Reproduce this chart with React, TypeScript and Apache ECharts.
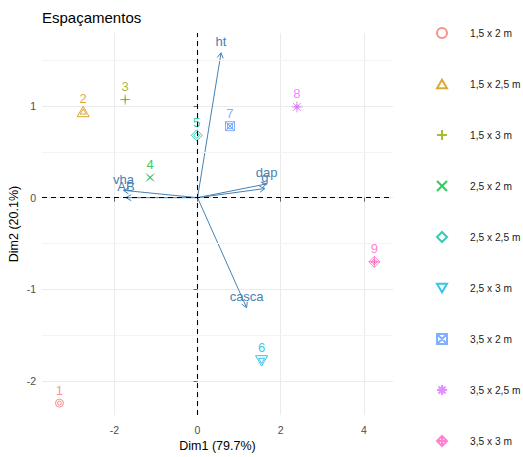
import React, { useEffect, useRef } from "react";
import * as echarts from "echarts";

const groups = [
  "1,5 x 2 m",
  "1,5 x 2,5 m",
  "1,5 x 3 m",
  "2,5 x 2 m",
  "2,5 x 2,5 m",
  "2,5 x 3 m",
  "3,5 x 2 m",
  "3,5 x 2,5 m",
  "3,5 x 3 m",
];
const pointLabels = ["1", "2", "3", "4", "5", "6", "7", "8", "9"];
const dim1 = [-3.32, -2.75, -1.74, -1.14, -0.02, 1.54, 0.78, 2.39, 4.25];
const dim2 = [-2.24, 0.94, 1.07, 0.22, 0.68, -1.78, 0.78, 0.99, -0.7];
const groupColors = [
  "#F8766D",
  "#D39200",
  "#93AA00",
  "#00BA38",
  "#00C19F",
  "#00B9E3",
  "#619CFF",
  "#DB72FB",
  "#FF61C3",
];

const varNames = ["ht", "dap", "g", "vha", "AB", "casca"];
const varDim1 = [0.565, 1.66, 1.62, -1.78, -1.72, 1.18];
const varDim2 = [1.58, 0.15, 0.1, 0.08, 0.0, -1.2];

const xTicks = [-2, 0, 2, 4];
const yTicks = [-2, -1, 0, 1];
const yMinorLines = [-1.5, -0.5, 0.5, 1.5];

const FONT = "'Liberation Sans', Arial, Helvetica, sans-serif";
const ARROW = "#4682B4";

// ggplot shapes 1..9 drawn as outlines
const shapes = [
  "M0,5 A5,5 0 1,1 10,5 A5,5 0 1,1 0,5 Z",
  "M5,0 L10,8.66 L0,8.66 Z",
  "M5,0 L5,10 M0,5 L10,5",
  "M0,0 L10,10 M10,0 L0,10",
  "M5,0 L10,5 L5,10 L0,5 Z",
  "M0,0 L10,0 L5,8.66 Z",
  "M0,0 L10,0 L10,10 L0,10 Z M0,0 L10,10 M10,0 L0,10",
  "M5,0 L5,10 M0,5 L10,5 M1.5,1.5 L8.5,8.5 M8.5,1.5 L1.5,8.5",
  "M5,0 L10,5 L5,10 L0,5 Z M5,0 L5,10 M0,5 L10,5",
];
const outerSizes = [8, 12, 10, 8, 11, 12, 9, 11, 11];
const innerSizes = [4, 6, 6, 5, 6, 6, 5, 6, 6];

export default function App() {
  const ref = useRef<HTMLDivElement>(null);

  useEffect(() => {
    if (!ref.current) return;
    const chart = echarts.init(ref.current, null, { renderer: "svg" });

    const scatterSeries = groups.map((g, i) => ({
      type: "scatter",
      name: g,
      symbol: "path://" + shapes[i],
      symbolKeepAspect: true,
      z: 3,
      itemStyle: {
        color: "rgba(0,0,0,0)",
        borderColor: groupColors[i],
        borderWidth: 1,
      },
      label: {
        show: false,
        formatter: pointLabels[i],
        position: "inside",
        offset: [0, -13],
        color: groupColors[i],
        fontSize: 13,
        fontFamily: FONT,
      },
      emphasis: { disabled: true },
      data: [
        { value: [dim1[i], dim2[i]], symbolSize: outerSizes[i], label: { show: true } },
        { value: [dim1[i], dim2[i]], symbolSize: innerSizes[i] },
      ],
    }));

    const arrowSeries = {
      type: "custom",
      name: "vars",
      coordinateSystem: "cartesian2d",
      z: 4,
      data: varNames.map((n, i) => [varDim1[i], varDim2[i]]),
      renderItem: (params: any, api: any) => {
        const p0 = api.coord([0, 0]);
        const p1 = api.coord([api.value(0), api.value(1)]);
        const ang = Math.atan2(p1[1] - p0[1], p1[0] - p0[0]);
        const L = 6;
        const a = Math.PI / 6;
        const h1 = [p1[0] - L * Math.cos(ang - a), p1[1] - L * Math.sin(ang - a)];
        const h2 = [p1[0] - L * Math.cos(ang + a), p1[1] - L * Math.sin(ang + a)];
        return {
          type: "group",
          children: [
            {
              type: "line",
              shape: { x1: p0[0], y1: p0[1], x2: p1[0], y2: p1[1] },
              style: { stroke: ARROW, lineWidth: 1 },
            },
            {
              type: "polyline",
              shape: { points: [h1, p1, h2] },
              style: { stroke: ARROW, fill: "none", lineWidth: 1 },
            },
            {
              type: "text",
              x: p1[0],
              y: p1[1] - 11,
              style: {
                text: varNames[params.dataIndex],
                fill: ARROW,
                fontSize: 13,
                fontFamily: FONT,
                align: "center",
                verticalAlign: "middle",
              },
            },
          ],
        };
      },
      markLine: {
        silent: true,
        symbol: ["none", "none"],
        label: { show: false },
        lineStyle: { type: [5, 4], color: "#000", width: 1.1 },
        data: [{ xAxis: 0 }, { yAxis: 0 }],
      },
    };

    const minorSeries = {
      type: "line",
      name: "minor",
      data: [],
      z: 1,
      markLine: {
        silent: true,
        symbol: ["none", "none"],
        label: { show: false },
        lineStyle: { type: "solid", color: "#F4F4F4", width: 1 },
        data: yMinorLines.map((v) => ({ yAxis: v })),
      },
    };

    chart.setOption({
      animation: false,
      textStyle: { fontFamily: FONT },
      title: {
        text: "Espaçamentos",
        left: 37,
        top: 5,
        textStyle: { fontSize: 15, fontWeight: "normal", color: "#000", fontFamily: FONT },
      },
      legend: {
        orient: "vertical",
        left: 431,
        top: 22,
        itemWidth: 10,
        itemHeight: 10,
        itemGap: 39,
        data: groups,
        textStyle: {
          fontSize: 10.2,
          lineHeight: 12,
          color: "#1a1a1a",
          padding: [0, 0, 0, 18],
          fontFamily: FONT,
        },
        selectedMode: false,
      },
      grid: {
        left: 42,
        right: 130,
        top: 33,
        bottom: 42,
        containLabel: false,
        outerBoundsMode: "none",
      },
      xAxis: {
        type: "value",
        min: -3.74,
        max: 4.7,
        splitNumber: 4,
        name: "Dim1 (79.7%)",
        nameLocation: "middle",
        nameGap: 24,
        nameMoveOverlap: false,
        nameTextStyle: { color: "#000", fontSize: 12.5, fontFamily: FONT },
        axisLine: { show: false },
        axisTick: { show: true, length: 4, lineStyle: { color: "#666" }, customValues: xTicks },
        axisLabel: {
          customValues: xTicks,
          color: "#4D4D4D",
          fontSize: 10.5,
          margin: 9,
        },
        splitLine: {
          show: true,
          lineStyle: { color: "#EBEBEB", width: 1 },
        },
      },
      yAxis: {
        type: "value",
        min: -2.37,
        max: 1.796,
        splitNumber: 4,
        name: "Dim2 (20.1%)",
        nameLocation: "middle",
        nameGap: 22,
        nameMoveOverlap: false,
        nameRotate: 90,
        nameTextStyle: { color: "#000", fontSize: 12.5, fontFamily: FONT },
        axisLine: { show: false },
        axisTick: { show: true, length: 4, lineStyle: { color: "#666" }, customValues: yTicks },
        axisLabel: {
          customValues: yTicks,
          color: "#4D4D4D",
          fontSize: 10.5,
          margin: 6,
        },
        splitLine: {
          show: true,
          lineStyle: { color: "#EBEBEB", width: 1 },
        },
      },
      series: [minorSeries, ...scatterSeries, arrowSeries],
    });

    return () => chart.dispose();
  }, []);

  return (
    <div
      ref={ref}
      style={{ position: "fixed", left: 0, top: 0, width: 523, height: 457, background: "#fff" }}
    />
  );
}
